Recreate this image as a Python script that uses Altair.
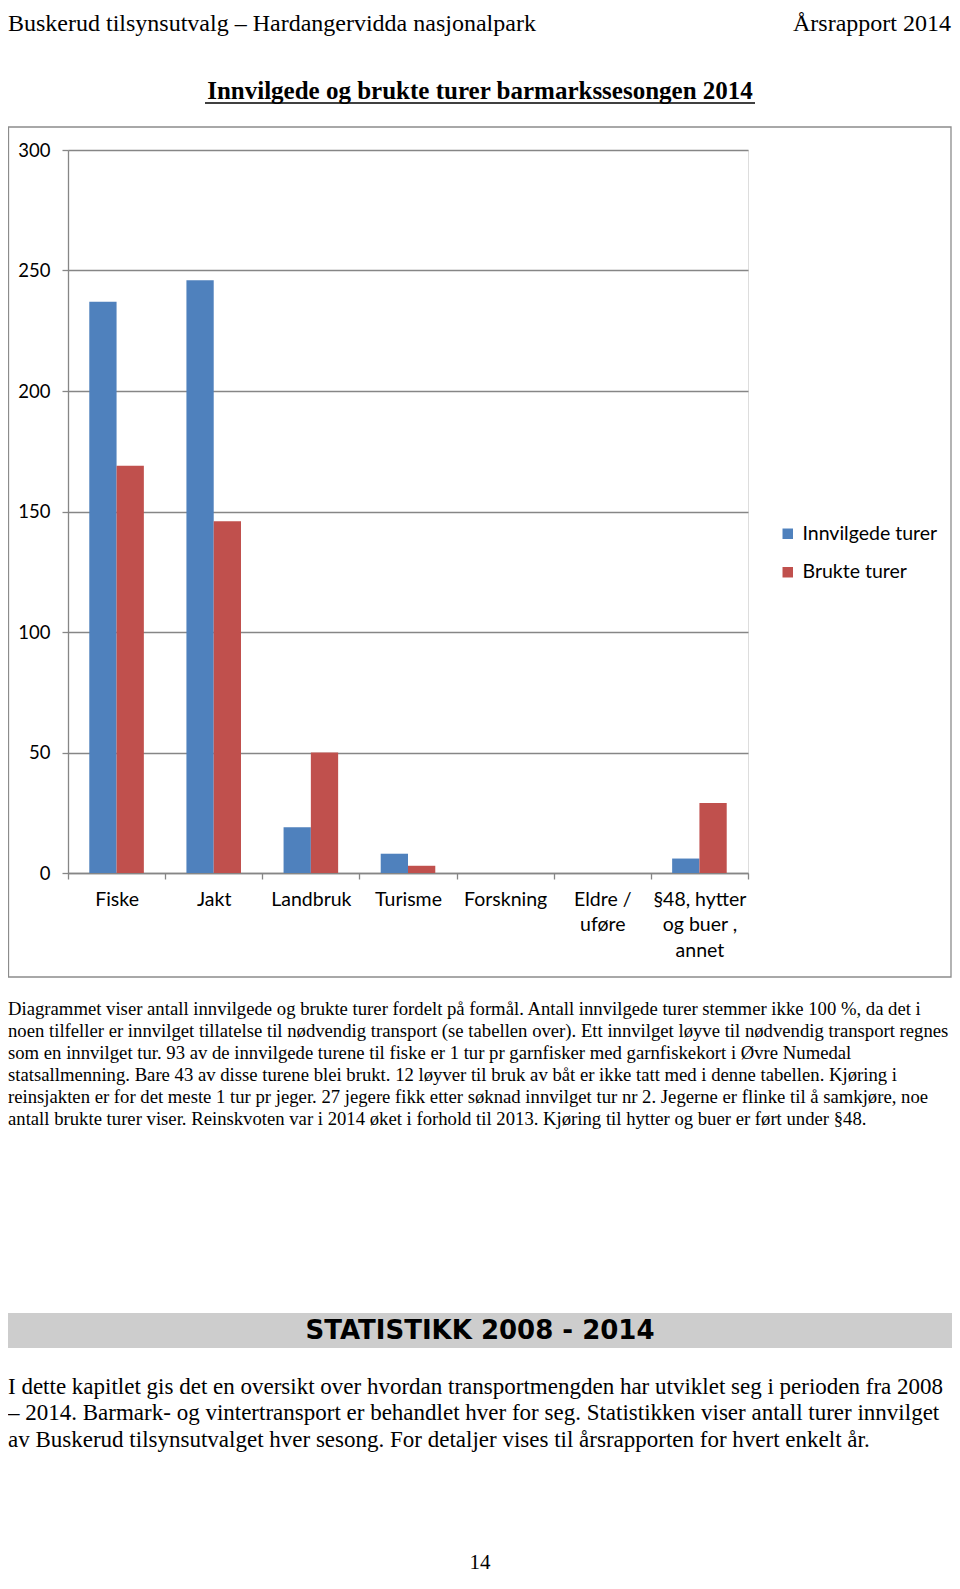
import altair as alt
import pandas as pd

# ---------------- data ----------------
categories = ["Fiske", "Jakt", "Landbruk", "Turisme", "Forskning", "Eldre /\nuføre", "§48, hytter\nog buer ,\nannet"]
series_names = ["Innvilgede turer", "Brukte turer"]
innvilgede = [237, 246, 19, 8, 0, 0, 6]
brukte = [169, 146, 50, 3, 0, 0, 29]
y_ticks = [0, 50, 100, 150, 200, 250, 300]
colors = ["#4F81BD", "#C0504D"]

header_left = "Buskerud tilsynsutvalg – Hardangervidda nasjonalpark"
header_right = "Årsrapport 2014"
title_text = "Innvilgede og brukte turer barmarkssesongen 2014"
para1 = [
    "Diagrammet viser antall innvilgede og brukte turer fordelt på formål. Antall innvilgede turer stemmer ikke 100 %, da det i",
    "noen tilfeller er innvilget tillatelse til nødvendig transport (se tabellen over). Ett innvilget løyve til nødvendig transport regnes",
    "som en innvilget tur. 93 av de innvilgede turene til fiske er 1 tur pr garnfisker med garnfiskekort i Øvre Numedal",
    "statsallmenning. Bare 43 av disse turene blei brukt. 12 løyver til bruk av båt er ikke tatt med i denne tabellen. Kjøring i",
    "reinsjakten er for det meste 1 tur pr jeger. 27 jegere fikk etter søknad innvilget tur nr 2. Jegerne er flinke til å samkjøre, noe",
    "antall brukte turer viser. Reinskvoten var i 2014 øket i forhold til 2013. Kjøring til hytter og buer er ført under §48.",
]
section_heading = "STATISTIKK 2008 - 2014"
para2 = [
    "I dette kapitlet gis det en oversikt over hvordan transportmengden har utviklet seg i perioden fra 2008",
    "– 2014. Barmark- og vintertransport er behandlet hver for seg. Statistikken viser antall turer innvilget",
    "av Buskerud tilsynsutvalget hver sesong. For detaljer vises til årsrapporten for hvert enkelt år.",
]
page_number = "14"

rows = []
for c, a, b in zip(categories, innvilgede, brukte):
    rows.append({"formal": c, "serie": series_names[0], "turer": a})
    rows.append({"formal": c, "serie": series_names[1], "turer": b})
df = pd.DataFrame(rows)
one = pd.DataFrame({"k": [0]})

# ---------------- layout ----------------
PW, PH = 680, 723
PAD_L, PAD_T = 60, 142
TOTAL_W, TOTAL_H = 944, 1565
GRID = "#868686"
SANS = "Lato"
SERIF = "Liberation Serif"

bars = alt.Chart(df).mark_bar().encode(
    x=alt.X("formal:N", sort=categories, title=None,
            scale=alt.Scale(paddingInner=0, paddingOuter=0),
            axis=alt.Axis(labelAngle=0, labelExpr="split(datum.label, '\\n')",
                          labelFont=SANS, labelFontSize=19.5, labelColor="#000000",
                          labelBaseline="top", labelPadding=11, labelLineHeight=25.5,
                          tickBand="extent", tickSize=6, tickColor=GRID, tickWidth=1.3,
                          domainColor=GRID, domainWidth=1.3, grid=False)),
    xOffset=alt.XOffset("serie:N", sort=series_names,
                        scale=alt.Scale(paddingInner=0, paddingOuter=0.78)),
    y=alt.Y("turer:Q", title=None,
            scale=alt.Scale(domain=[0, 300], nice=False),
            axis=alt.Axis(values=y_ticks, labelFont=SANS, labelFontSize=18.5, labelColor="#000000",
                          labelPadding=12, tickSize=6, tickColor=GRID, tickWidth=1.3,
                          domainColor=GRID, domainWidth=1.3,
                          grid=True, gridColor=GRID, gridWidth=1.3)),
    color=alt.Color("serie:N", sort=series_names,
                    scale=alt.Scale(domain=series_names, range=colors),
                    legend=alt.Legend(title=None, orient="none", legendX=710, legendY=374,
                                      symbolType="square", symbolSize=110, symbolStrokeWidth=0,
                                      labelFont=SANS, labelFontSize=19.5, labelColor="#000000",
                                      labelOffset=5, rowPadding=17.5)),
)

def txt(s, x, y, size, font=SERIF, weight="normal", align="left", baseline="middle", lh=None):
    kw = dict(font=font, fontSize=size, fontWeight=weight, align=align, baseline=baseline,
              color="#000000", text=s)
    if lh is not None:
        kw["lineHeight"] = lh
    return alt.Chart(one).mark_text(**kw).encode(x=alt.value(x), y=alt.value(y))

border = alt.Chart(one).mark_rect(fill="transparent", stroke="#8c8c8c", strokeWidth=1.3).encode(
    x=alt.value(-59.5), x2=alt.value(883), y=alt.value(-23), y2=alt.value(827))
band = alt.Chart(one).mark_rect(fill="#cdcdcd").encode(
    x=alt.value(-60), x2=alt.value(884), y=alt.value(1163), y2=alt.value(1198))
underline = alt.Chart(one).mark_rule(color="#000000", strokeWidth=1.6).encode(
    x=alt.value(137), x2=alt.value(687), y=alt.value(-47))

layers = [
    border,
    bars,
    txt(header_left, -60, -138, 24, baseline="top"),
    txt(header_right, 883, -138, 24, align="right", baseline="top"),
    txt(title_text, 412, -59, 25, weight="bold", align="center"),
    underline,
    txt(para1, -60, 850, 18.7, baseline="top", lh=21.9),
    band,
    txt(section_heading, 412, 1181, 26, font="DejaVu Sans", weight="bold", align="center"),
    txt(para2, -60, 1226, 23, baseline="top", lh=26.3),
    txt(page_number, 412, 1423, 21, align="center", baseline="bottom"),
]

chart = alt.layer(*layers).properties(
    width=PW, height=PH,
    autosize=alt.AutoSizeParams(type="none"),
    padding={"left": PAD_L, "top": PAD_T, "right": TOTAL_W - PAD_L - PW, "bottom": TOTAL_H - PAD_T - PH},
).configure_view(stroke=None).configure(background="#ffffff")

chart.save("out.html", embed_options={"renderer": "svg", "actions": False})
